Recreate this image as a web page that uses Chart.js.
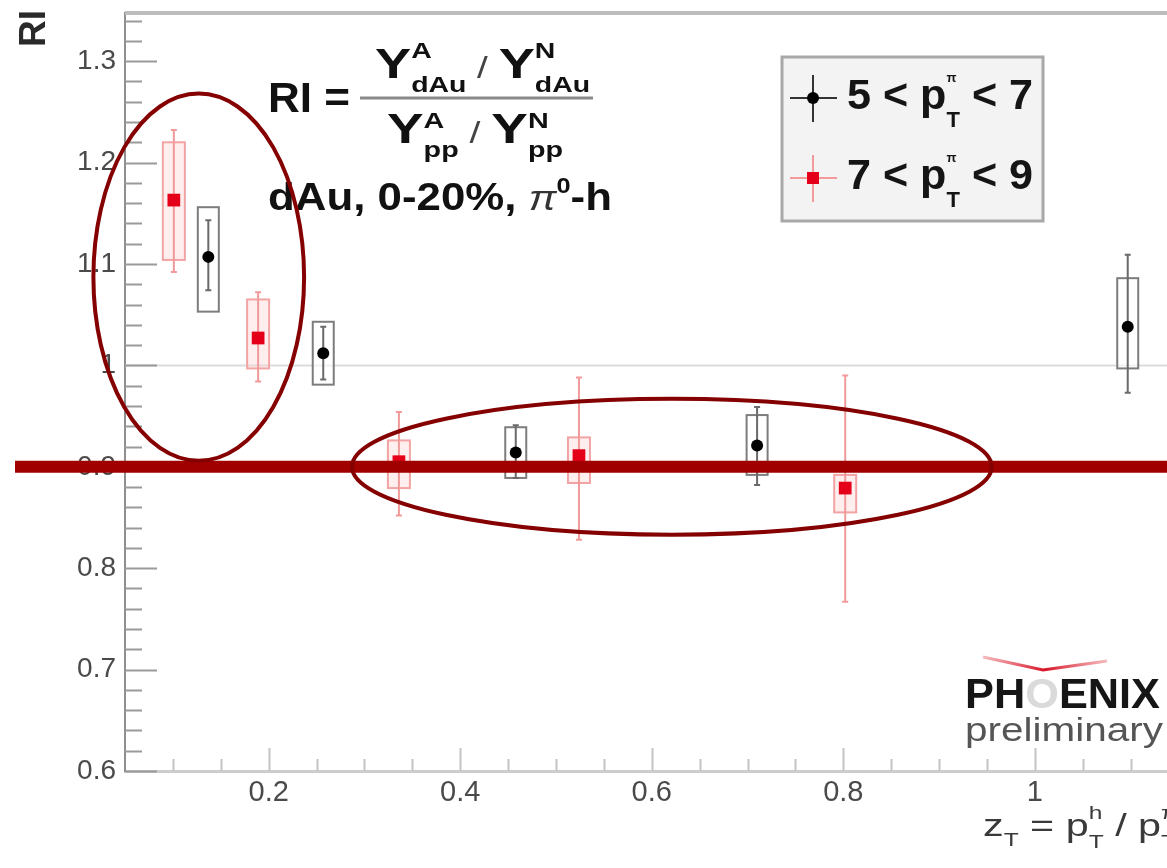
<!DOCTYPE html>
<html>
<head>
<meta charset="utf-8">
<script src="https://cdn.jsdelivr.net/npm/chart.js@4.4.0/dist/chart.umd.min.js"></script>
<style>
  html, body { margin: 0; padding: 0; background: #fff; overflow: hidden; }
  canvas { display: block; }
</style>
</head>
<body>
<canvas id="riChart" width="1167" height="868"></canvas>
<script>
const xTicks = [0.2, 0.4, 0.6, 0.8, 1];
const yTicks = [0.6, 0.7, 0.8, 0.9, 1, 1.1, 1.2, 1.3];

// 5 < pT < 7 (black)
const ztLow = [0.137, 0.257, 0.458, 0.710, 1.097];
const riLow = [1.107, 1.012, 0.914, 0.921, 1.038];
const statLoLow = [1.074, 0.986, 0.889, 0.882, 0.973];
const statHiLow = [1.143, 1.038, 0.941, 0.959, 1.109];
const sysLoLow = [1.053, 0.981, 0.889, 0.892, 0.997];
const sysHiLow = [1.156, 1.043, 0.939, 0.951, 1.086];

// 7 < pT < 9 (red)
const ztHigh = [0.101, 0.189, 0.336, 0.524, 0.802];
const riHigh = [1.163, 1.027, 0.905, 0.911, 0.879];
const statLoHigh = [1.092, 0.984, 0.852, 0.828, 0.767];
const statHiHigh = [1.232, 1.072, 0.954, 0.988, 0.990];
const sysLoHigh = [1.104, 0.997, 0.879, 0.884, 0.855];
const sysHiHigh = [1.220, 1.065, 0.926, 0.929, 0.892];

// hand-drawn marks on the slide, in data units
const ellipseCx = [0.127, 0.621];
const ellipseCy = [1.087, 0.900];
const ellipseRx = [0.110, 0.334];
const ellipseRy = [0.181, 0.067];
const markLineY = 0.9;

const FONT = '"Liberation Sans", Arial, sans-serif';

function points(xs, ys, sLo, sHi, bLo, bHi) {
    return xs.map((x, i) => ({ x: x, y: ys[i], statLo: sLo[i], statHi: sHi[i], sysLo: bLo[i], sysHi: bHi[i] }));
}

function fontOf(p) {
    return (p.style || 'normal') + ' ' + (p.weight || 'bold') + ' ' + p.size + 'px ' + FONT;
}
function partWidth(ctx, p) {
    const items = p.stack || [p];
    let w = 0;
    items.forEach(q => { ctx.font = fontOf(q); w = Math.max(w, ctx.measureText(q.t).width); });
    return w;
}
// draws a run of text pieces (with sub/superscripts), stretched to fit x0..x1 if x1 given
function drawRich(ctx, parts, x0, x1, base, color) {
    const natural = parts.reduce((s, p) => s + partWidth(ctx, p), 0);
    const sx = x1 ? (x1 - x0) / natural : 1;
    ctx.save();
    ctx.translate(x0, base);
    ctx.scale(sx, 1);
    ctx.textAlign = 'left';
    ctx.textBaseline = 'alphabetic';
    let cx = 0;
    parts.forEach(p => {
        (p.stack || [p]).forEach(q => {
            ctx.font = fontOf(q);
            ctx.fillStyle = q.color || color;
            ctx.fillText(q.t, cx, q.dy || 0);
        });
        cx += partWidth(ctx, p);
    });
    ctx.restore();
}

function legendEntry(ctx, cx, cy, line, dot, square, label) {
    ctx.strokeStyle = line;
    ctx.lineWidth = 2;
    ctx.beginPath();
    ctx.moveTo(cx - 23, cy); ctx.lineTo(cx + 24, cy);
    ctx.moveTo(cx, cy - 23); ctx.lineTo(cx, cy + 24);
    ctx.stroke();
    ctx.fillStyle = dot;
    if (square) ctx.fillRect(cx - 6, cy - 6, 12, 12);
    else { ctx.beginPath(); ctx.arc(cx, cy, 6, 0, Math.PI * 2); ctx.fill(); }
    drawRich(ctx, [
        { t: label[0] + ' < p', size: 43 },
        { stack: [{ t: 'π', size: 13, dy: -27 }, { t: 'T', size: 22, dy: 18 }] },
        { t: ' < ' + label[1], size: 43 }
    ], 847, 1033, cy + 11, '#151515');
}

const decorPlugin = {
    id: 'decor',
    beforeDatasetsDraw(chart) {
        const { ctx, chartArea: a, scales: { x, y } } = chart;
        ctx.save();
        // reference line at RI = 1
        ctx.strokeStyle = '#dcdcdc';
        ctx.lineWidth = 2;
        ctx.beginPath();
        ctx.moveTo(a.left, y.getPixelForValue(1));
        ctx.lineTo(a.right, y.getPixelForValue(1));
        ctx.stroke();
        // systematic boxes and statistical bars
        chart.data.datasets.forEach(ds => {
            ds.data.forEach(p => {
                const px = x.getPixelForValue(p.x);
                const bt = y.getPixelForValue(p.sysHi), bb = y.getPixelForValue(p.sysLo);
                const w = ds.boxWidth;
                ctx.fillStyle = ds.boxFill;
                ctx.fillRect(px - w / 2, bt, w, bb - bt);
                ctx.strokeStyle = ds.boxLine;
                ctx.lineWidth = 2;
                ctx.strokeRect(px - w / 2, bt, w, bb - bt);
                const st = y.getPixelForValue(p.statHi), sb = y.getPixelForValue(p.statLo);
                ctx.strokeStyle = ds.statLine;
                ctx.beginPath();
                ctx.moveTo(px, st); ctx.lineTo(px, sb);
                ctx.moveTo(px - 3, st); ctx.lineTo(px + 3, st);
                ctx.moveTo(px - 3, sb); ctx.lineTo(px + 3, sb);
                ctx.stroke();
            });
        });
        ctx.restore();
    },
    afterDraw(chart) {
        const { ctx, chartArea: a, scales: { x, y } } = chart;
        ctx.save();
        // top frame
        ctx.strokeStyle = '#bdbdbd';
        ctx.lineWidth = 4;
        ctx.beginPath(); ctx.moveTo(a.left, a.top); ctx.lineTo(a.right, a.top); ctx.stroke();
        // inward ticks, y
        ctx.strokeStyle = '#9a9a9a';
        ctx.lineWidth = 2;
        ctx.beginPath();
        for (let v = 0.6; v <= y.max + 1e-9; v += 0.02) {
            const py = Math.round(y.getPixelForValue(v)) + 0.5;
            const major = yTicks.some(t => Math.abs(t - v) < 1e-6);
            ctx.moveTo(a.left, py); ctx.lineTo(a.left + (major ? 32 : 17), py);
        }
        ctx.stroke();
        // inward ticks, x
        ctx.strokeStyle = '#c4c4c4';
        ctx.beginPath();
        for (let v = 0.1; v <= x.max + 1e-9; v += 0.05) {
            const px = Math.round(x.getPixelForValue(v)) + 0.5;
            const major = xTicks.some(t => Math.abs(t - v) < 1e-6);
            ctx.moveTo(px, a.bottom); ctx.lineTo(px, a.bottom - (major ? 23 : 12));
        }
        ctx.stroke();

        // formula
        drawRich(ctx, [{ t: 'RI =', size: 42 }], 268, 350, 112, '#111');
        drawRich(ctx, [
            { t: 'Y', size: 42 },
            { stack: [{ t: 'A', size: 22, dy: -20 }, { t: 'dAu', size: 22, dy: 14 }] },
            { t: ' / ', size: 30, weight: 'normal', color: '#444' },
            { t: 'Y', size: 42 },
            { stack: [{ t: 'N', size: 22, dy: -20 }, { t: 'dAu', size: 22, dy: 14 }] }
        ], 375, 590, 78, '#111');
        ctx.strokeStyle = '#8a8a8a';
        ctx.lineWidth = 3;
        ctx.beginPath(); ctx.moveTo(360, 98); ctx.lineTo(593, 98); ctx.stroke();
        drawRich(ctx, [
            { t: 'Y', size: 42 },
            { stack: [{ t: 'A', size: 22, dy: -15 }, { t: 'pp', size: 22, dy: 14 }] },
            { t: ' / ', size: 30, weight: 'normal', color: '#444' },
            { t: 'Y', size: 42 },
            { stack: [{ t: 'N', size: 22, dy: -15 }, { t: 'pp', size: 22, dy: 14 }] }
        ], 387, 563, 143, '#111');
        drawRich(ctx, [
            { t: 'dAu, 0-20%, ', size: 38 },
            { t: 'π', size: 36, weight: 'normal', style: 'italic', color: '#333' },
            { t: '0', size: 22, dy: -17 },
            { t: '-h', size: 38 }
        ], 268, 612, 210, '#111');

        // legend
        ctx.fillStyle = '#f3f3f3';
        ctx.fillRect(782, 57, 261, 164);
        ctx.strokeStyle = '#a8a8a8';
        ctx.lineWidth = 3;
        ctx.strokeRect(782, 57, 261, 164);
        legendEntry(ctx, 813, 98, '#333', '#000', false, ['5', '7']);
        legendEntry(ctx, 813, 178, '#f39a9a', '#e5001a', true, ['7', '9']);

        // axis titles
        ctx.save();
        ctx.translate(45, 47);
        ctx.rotate(-Math.PI / 2);
        drawRich(ctx, [{ t: 'RI', size: 36 }], 0, 37, 0, '#2a2a2a');
        ctx.restore();
        drawRich(ctx, [
            { t: 'z', size: 32, weight: 'normal' },
            { t: 'T', size: 19, weight: 'normal', dy: 10 },
            { t: ' = p', size: 32, weight: 'normal' },
            { stack: [{ t: 'h', size: 19, weight: 'normal', dy: -17 }, { t: 'T', size: 19, weight: 'normal', dy: 12 }] },
            { t: ' / p', size: 32, weight: 'normal' },
            { stack: [{ t: 'π', size: 19, weight: 'normal', dy: -17 }, { t: 'T', size: 19, weight: 'normal', dy: 12 }] }
        ], 983, 1178, 836, '#3a3a3a');

        // PHENIX preliminary
        const grad = ctx.createLinearGradient(983, 0, 1107, 0);
        grad.addColorStop(0, 'rgba(225,60,70,0.35)');
        grad.addColorStop(0.5, 'rgba(215,20,40,1)');
        grad.addColorStop(1, 'rgba(225,60,70,0.35)');
        ctx.strokeStyle = grad;
        ctx.lineWidth = 3;
        ctx.beginPath(); ctx.moveTo(983, 657); ctx.lineTo(1043, 670); ctx.lineTo(1107, 661); ctx.stroke();
        drawRich(ctx, [
            { t: 'PH', size: 42 },
            { t: 'O', size: 42, color: '#dadada' },
            { t: 'ENIX', size: 42 }
        ], 965, 1160, 708, '#161616');
        drawRich(ctx, [{ t: 'preliminary', size: 34, weight: 'normal' }], 965, 1163, 741, '#555');

        // annotations drawn over the slide
        ctx.strokeStyle = '#a00000';
        ctx.lineWidth = 12;
        ctx.beginPath();
        ctx.moveTo(15, y.getPixelForValue(markLineY));
        ctx.lineTo(chart.width, y.getPixelForValue(markLineY));
        ctx.stroke();
        ctx.strokeStyle = '#850000';
        ctx.lineWidth = 4;
        ellipseCx.forEach((cx, i) => {
            const px = x.getPixelForValue(cx), py = y.getPixelForValue(ellipseCy[i]);
            const rx = x.getPixelForValue(cx + ellipseRx[i]) - px;
            const ry = py - y.getPixelForValue(ellipseCy[i] + ellipseRy[i]);
            ctx.beginPath();
            ctx.ellipse(px, py, rx, ry, 0, 0, Math.PI * 2);
            ctx.stroke();
        });
        ctx.restore();
    }
};

function fixTicks(values) {
    return scale => { scale.ticks = values.map(v => ({ value: v })); };
}

new Chart(document.getElementById('riChart').getContext('2d'), {
    type: 'scatter',
    data: {
        datasets: [
            {
                label: '5 < pT < 7',
                data: points(ztLow, riLow, statLoLow, statHiLow, sysLoLow, sysHiLow),
                pointStyle: 'circle',
                pointRadius: 6,
                backgroundColor: '#000',
                borderColor: '#000',
                borderWidth: 0,
                boxWidth: 21,
                boxLine: '#7d7d7d',
                boxFill: 'rgba(255,255,255,0.6)',
                statLine: '#6a6a6a'
            },
            {
                label: '7 < pT < 9',
                data: points(ztHigh, riHigh, statLoHigh, statHiHigh, sysLoHigh, sysHiHigh),
                pointStyle: 'rect',
                pointRadius: 9,
                backgroundColor: '#e5001a',
                borderColor: '#e5001a',
                borderWidth: 0,
                boxWidth: 22,
                boxLine: '#f3a3a3',
                boxFill: 'rgba(255,205,205,0.35)',
                statLine: '#f19a9a'
            }
        ]
    },
    options: {
        responsive: false,
        animation: false,
        devicePixelRatio: 1,
        layout: { autoPadding: false, padding: { top: 13, left: 0, right: 0, bottom: 0 } },
        plugins: { legend: { display: false }, tooltip: { enabled: false } },
        scales: {
            x: {
                type: 'linear',
                min: 0.05,
                max: 1.138,
                afterBuildTicks: fixTicks(xTicks),
                afterFit: s => { s.height = 97; s.paddingLeft = 0; s.paddingRight = 0; },
                grid: { display: false },
                border: { display: true, color: '#cdcdcd', width: 3 },
                ticks: {
                    padding: -3,
                    color: '#4a4a4a',
                    font: { family: FONT, size: 29 },
                    callback: v => String(v)
                }
            },
            y: {
                type: 'linear',
                min: 0.6,
                max: 1.3475,
                afterBuildTicks: fixTicks(yTicks),
                afterFit: s => { s.width = 125; s.paddingTop = 0; s.paddingBottom = 0; },
                grid: { display: false },
                border: { display: true, color: '#8f8f8f', width: 2 },
                ticks: {
                    padding: 1,
                    color: '#4a4a4a',
                    font: { family: FONT, size: 28 },
                    callback: v => String(v)
                }
            }
        }
    },
    plugins: [decorPlugin]
});
</script>
</body>
</html>
